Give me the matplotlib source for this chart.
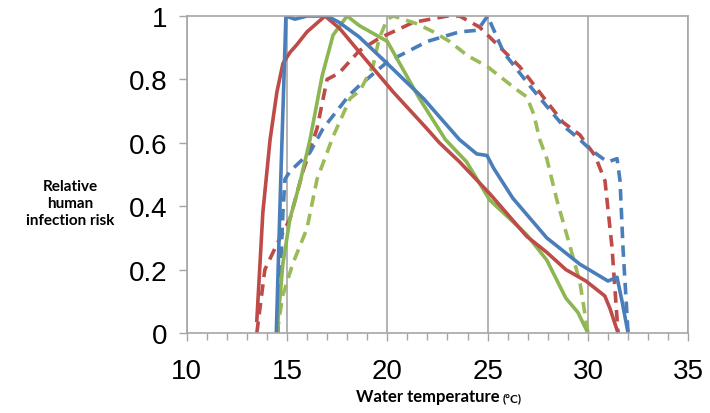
import matplotlib
matplotlib.use("Agg")
import matplotlib.pyplot as plt
from matplotlib.ticker import MultipleLocator

# ---- data ----
blue_solid_x = [14.47, 14.7, 14.95, 15.4, 16.0, 17.0, 17.6, 18.6, 20.0, 21.8, 23.6, 24.46, 24.97, 25.3, 26.26, 27.95, 29.6, 31.0, 31.45, 31.7, 32.0]
blue_solid_y = [0.0, 0.5, 1.0, 0.99, 1.0, 1.0, 0.98, 0.934, 0.85, 0.74, 0.61, 0.565, 0.56, 0.52, 0.425, 0.30, 0.217, 0.164, 0.176, 0.1, 0.0]

red_solid_x = [13.5, 13.8, 14.16, 14.5, 14.8, 15.15, 15.5, 16.0, 16.9, 17.64, 18.6, 20.3, 21.97, 22.6, 23.6, 25.1, 26.95, 27.94, 28.9, 29.9, 30.84, 31.1, 31.5]
red_solid_y = [0.04, 0.38, 0.61, 0.76, 0.85, 0.885, 0.91, 0.95, 1.0, 0.96, 0.887, 0.76, 0.645, 0.60, 0.54, 0.44, 0.305, 0.255, 0.20, 0.164, 0.117, 0.077, 0.0]

green_solid_x = [14.5, 14.8, 15.15, 15.65, 16.15, 16.75, 17.3, 18.0, 18.6, 20.0, 21.6, 22.9, 23.95, 25.1, 26.95, 27.95, 28.9, 29.5, 30.0]
green_solid_y = [0.0, 0.22, 0.36, 0.475, 0.61, 0.81, 0.94, 1.0, 0.97, 0.92, 0.74, 0.61, 0.54, 0.42, 0.31, 0.23, 0.11, 0.065, 0.0]

red_dash_x = [13.5, 13.9, 14.5, 15.15, 15.8, 16.5, 17.0, 17.6, 18.6, 19.6, 21.3, 23.0, 23.6, 24.6, 25.8, 26.6, 27.1, 27.95, 28.75, 29.6, 30.0, 30.35, 30.85, 31.2, 31.5]
red_dash_y = [0.0, 0.2, 0.28, 0.36, 0.51, 0.645, 0.80, 0.82, 0.89, 0.93, 0.98, 1.0, 1.0, 0.965, 0.89, 0.84, 0.80, 0.73, 0.665, 0.625, 0.59, 0.56, 0.48, 0.27, 0.0]

blue_dash_x = [14.55, 14.8, 14.9, 15.15, 16.15, 16.8, 18.1, 18.6, 20.0, 22.0, 23.6, 24.5, 25.0, 25.8, 27.1, 27.95, 28.75, 29.6, 30.1, 30.75, 31.0, 31.45, 31.6, 31.75, 32.0]
blue_dash_y = [0.0, 0.38, 0.485, 0.51, 0.57, 0.645, 0.75, 0.78, 0.855, 0.92, 0.95, 0.955, 1.0, 0.885, 0.78, 0.715, 0.655, 0.61, 0.58, 0.55, 0.54, 0.55, 0.48, 0.265, 0.0]

green_dash_x = [14.5, 14.8, 15.3, 16.0, 16.5, 17.3, 18.15, 18.65, 19.3, 19.6, 20.0, 20.3, 21.5, 22.3, 23.1, 24.0, 25.0, 25.6, 26.4, 26.95, 27.3, 27.6, 27.95, 28.45, 29.1, 29.6, 30.0]
green_dash_y = [0.0, 0.12, 0.22, 0.33, 0.485, 0.62, 0.74, 0.765, 0.845, 0.93, 0.99, 1.0, 0.975, 0.95, 0.92, 0.875, 0.84, 0.81, 0.77, 0.745, 0.69, 0.61, 0.55, 0.42, 0.275, 0.16, 0.0]

x_ticks = [10, 15, 20, 25, 30, 35]
y_ticks = [0, 0.2, 0.4, 0.6, 0.8, 1]
y_tick_labels = ["0", "0.2", "0.4", "0.6", "0.8", "1"]

BLUE = "#4A7EBB"
RED = "#BE4B48"
GREEN = "#8CB652"
GREEN_D = "#9BBB59"
GRID = "#A6A6A6"

fig = plt.figure(figsize=(7.10, 4.14), dpi=100)
ax = fig.add_axes([0.2628, 0.1932, 0.9694 - 0.2628, 0.9589 - 0.1932])

lw = 2.6
dash = (3.2, 2.0)
ax.plot(red_dash_x, red_dash_y, color=RED, lw=lw, dashes=dash)
ax.plot(blue_dash_x, blue_dash_y, color=BLUE, lw=lw, dashes=dash)
ax.plot(green_dash_x, green_dash_y, color=GREEN_D, lw=lw, dashes=dash)
ax.plot(green_solid_x, green_solid_y, color=GREEN, lw=lw)
ax.plot(red_solid_x, red_solid_y, color=RED, lw=lw)
ax.plot(blue_solid_x, blue_solid_y, color=BLUE, lw=lw)

ax.set_xlim(10, 35)
ax.set_ylim(0, 1)
ax.xaxis.set_major_locator(MultipleLocator(5))
ax.xaxis.set_minor_locator(MultipleLocator(1))
ax.set_xticks(x_ticks)
ax.set_yticks(y_ticks)
ax.set_yticklabels(y_tick_labels)

ax.grid(axis="x", which="major", color=GRID, lw=1.2)
ax.set_axisbelow(True)
for s in ["left", "bottom", "top", "right"]:
    ax.spines[s].set_color(GRID)
    ax.spines[s].set_linewidth(1.2)

tick_family = ["Liberation Sans Narrow", "Liberation Sans"]
ax.tick_params(axis="both", which="both", direction="out", color=GRID, width=1.0)
ax.tick_params(axis="x", which="major", length=6, pad=12)
ax.tick_params(axis="x", which="minor", length=5)
ax.tick_params(axis="y", which="major", length=6, pad=8)
for lab in ax.get_xticklabels() + ax.get_yticklabels():
    lab.set_fontfamily(tick_family)
    lab.set_fontsize(20)

fig.text(0.0986, 0.507, "Relative\nhuman\ninfection risk", ha="center", va="center",
         fontsize=11, fontweight="bold", family=["Lato", "DejaVu Sans"], linespacing=1.3)
fig.text(500 / 710, 0.028, "Water temperature", ha="right", va="baseline",
         fontsize=12, fontweight="bold", family=["Lato", "DejaVu Sans"])
fig.text(503 / 710, 0.028, "(°C)", ha="left", va="baseline",
         fontsize=8.5, fontweight="bold", family=["Lato", "DejaVu Sans"])

fig.savefig("out.png", dpi=100)
